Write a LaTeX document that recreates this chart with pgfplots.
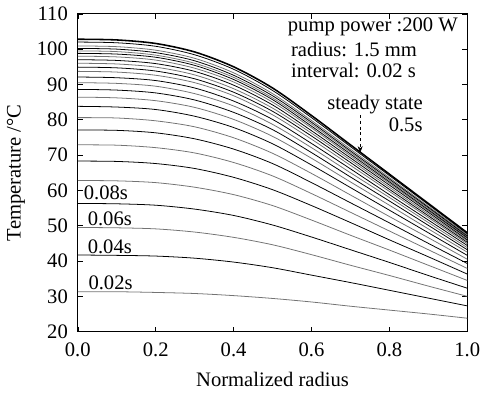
\documentclass[border=0pt]{standalone}
\usepackage{fontspec}
\setmainfont{Liberation Serif}
\usepackage{pgfplots}
\usepackage{pgfplotstable}
\usetikzlibrary{arrows.meta}
\pgfplotsset{compat=1.18}
\pgfplotstableread{
r c1 c2 c3 c4 c5 c6 c7 c8 c9 c10 c11 c12 c13 c14 c15 c16 c17 c18 c19 c20 c21 c22 c23 c24 c25
0.0 31.3 41.7 49.5 56.3 62.8 68.3 72.9 77.1 80.6 83.8 86.4 88.6 90.5 92.1 93.7 94.9 96.0 97.0 98.0 98.8 99.5 100.2 100.9 102.0 102.8
0.1 31.3 41.6 49.4 56.2 62.7 68.2 72.8 77.0 80.5 83.6 86.2 88.4 90.3 91.9 93.5 94.7 95.8 96.8 97.8 98.6 99.3 100.0 100.7 101.8 102.6
0.2 31.1 41.4 49.1 55.8 62.2 67.6 72.1 76.3 79.7 82.9 85.4 87.6 89.5 91.1 92.6 93.8 94.9 95.9 96.9 97.7 98.3 99.0 99.7 100.8 101.6
0.3 30.8 40.8 48.2 54.7 60.9 66.2 70.6 74.6 78.0 81.0 83.5 85.6 87.4 89.0 90.5 91.6 92.7 93.7 94.6 95.4 96.0 96.7 97.4 98.4 99.2
0.4 30.2 39.7 46.7 52.9 58.8 63.7 67.9 71.7 74.9 77.8 80.1 82.1 83.9 85.3 86.8 87.8 88.8 89.8 90.7 91.4 92.0 92.6 93.3 94.3 95.0
0.5 29.4 38.1 44.6 50.2 55.7 60.2 64.1 67.6 70.5 73.2 75.3 77.2 78.7 80.1 81.4 82.4 83.3 84.2 85.0 85.7 86.2 86.8 87.4 88.3 89.0
0.6 28.4 36.0 41.8 46.8 51.6 55.7 59.1 62.2 64.8 67.2 69.1 70.7 72.1 73.3 74.5 75.4 76.2 76.9 77.7 78.2 78.8 79.3 79.8 80.6 81.2
0.7 27.2 33.9 38.8 43.2 47.3 50.9 53.8 56.5 58.7 60.8 62.4 63.8 65.0 66.1 67.1 67.9 68.6 69.2 69.8 70.3 70.8 71.2 71.7 72.4 72.9
0.8 26.1 31.7 35.9 39.6 43.1 46.0 48.5 50.8 52.6 54.4 55.8 57.0 58.0 58.8 59.7 60.3 60.9 61.5 62.0 62.4 62.8 63.2 63.6 64.2 64.6
0.9 25.0 29.5 32.9 35.9 38.8 41.2 43.2 45.0 46.6 48.0 49.1 50.1 50.9 51.6 52.3 52.8 53.3 53.8 54.2 54.5 54.9 55.2 55.5 56.0 56.3
1.0 23.8 27.3 30.0 32.3 34.5 36.3 37.9 39.3 40.5 41.6 42.5 43.2 43.8 44.4 44.9 45.3 45.7 46.0 46.4 46.6 46.9 47.1 47.4 47.7 48.0
}\datatable
\begin{document}
\fontsize{21}{25}\selectfont
\begin{tikzpicture}
\begin{axis}[
  scale only axis,
  width=397pt, height=324pt,
  xmin=0, xmax=1, ymin=20, ymax=110,
  xtick={0,0.2,0.4,0.6,0.8,1.0},
  ytick={20,30,...,110},
  xticklabel style={/pgf/number format/fixed,/pgf/number format/fixed zerofill,/pgf/number format/precision=1, yshift=-4pt},
  yticklabel style={xshift=-3pt},
  /pgf/number format/assume math mode=true,
  tick align=inside,
  major tick length=5pt,
  tick style={black, line width=0.6pt},
  axis line style={line width=0.8pt},
  ticklabel style={font=\fontsize{21}{25}\selectfont},
  xlabel={Normalized radius},
  ylabel={Temperature /°C},
  label style={font=\fontsize{21}{25}\selectfont},
  xlabel style={yshift=-2pt},
  ylabel style={yshift=-2pt},
  clip=true,
]
\pgfplotsinvokeforeach{1,3,5,7,9,11,13,15,17,19,21,23}{
  \addplot[smooth, black!55, line width=0.8pt] table[x=r, y=c#1]{\datatable};
}
\pgfplotsinvokeforeach{2,4,6,8,10,12,14,16,18,20,22,24}{
  \addplot[smooth, black, line width=0.8pt] table[x=r, y=c#1]{\datatable};
}
\addplot[smooth, black, line width=1.6pt] table[x=r, y=c25]{\datatable};
\node[anchor=west, inner sep=0pt] at (axis cs:0.015,59.2) {0.08s};
\node[anchor=west, inner sep=0pt] at (axis cs:0.025,51.9) {0.06s};
\node[anchor=west, inner sep=0pt] at (axis cs:0.025,43.9) {0.04s};
\node[anchor=west, inner sep=0pt] at (axis cs:0.027,33.9) {0.02s};
\node[anchor=west, inner sep=0pt] at (axis cs:0.539,106.4) {pump power :200 W};
\node[anchor=west, inner sep=0pt] at (axis cs:0.547,100.0) {radius: 1.5 mm};
\node[anchor=west, inner sep=0pt] at (axis cs:0.547,93.9) {interval: 0.02 s};
\node[anchor=west, inner sep=0pt] at (axis cs:0.640,84.2) {steady state};
\node[anchor=west, inner sep=0pt] at (axis cs:0.798,78.6) {0.5s};
\draw[dashed, line width=0.6pt, -{Stealth[length=7pt,width=5pt]}] (axis cs:0.725,81.4) -- (axis cs:0.725,70.6);
\end{axis}
\end{tikzpicture}
\end{document}
